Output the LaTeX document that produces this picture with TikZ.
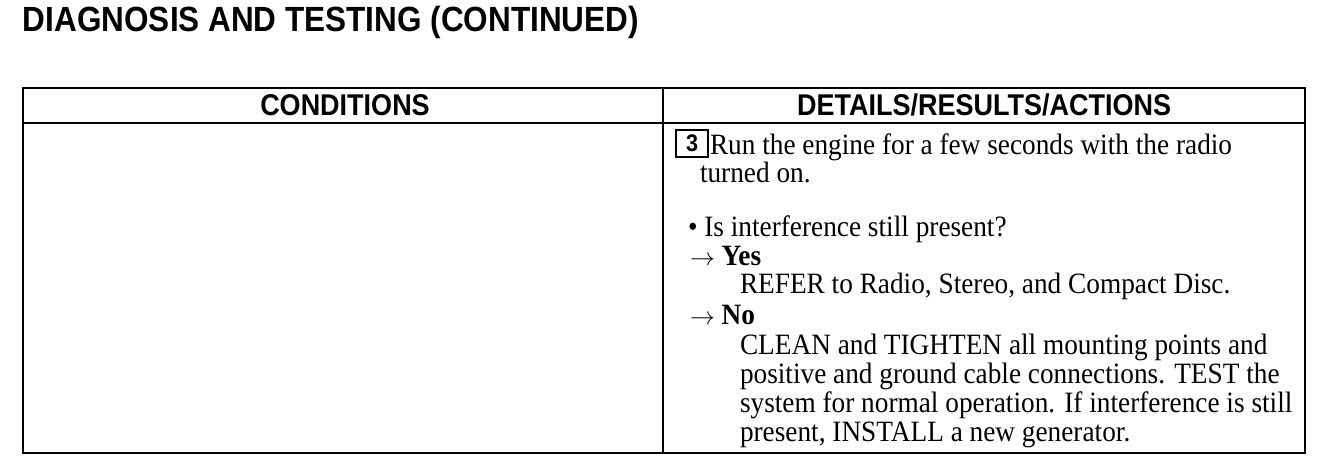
\documentclass[tikz,border=0pt]{standalone}
\usepackage{fontspec}
\setmainfont{Liberation Serif}[FakeStretch=0.925]
\setsansfont{Liberation Sans}[FakeStretch=0.9]

\tikzset{
  headtext/.style={anchor=base, font=\sffamily\bfseries\fontsize{30}{32}\selectfont},
  bodytext/.style={anchor=base west, font=\fontsize{29.5}{30}\selectfont}
}

\begin{document}
\begin{tikzpicture}[every node/.style={inner sep=0pt, outer sep=0pt}, x=1pt, y=-1pt, line width=2.4pt]
		\useasboundingbox (0, 0) rectangle (1344, 462);

		\node at (23, 32) [anchor=base west, font=\sffamily\bfseries\fontsize{35}{37}\selectfont] (title) {DIAGNOSIS AND TESTING (CONTINUED)};

		\draw (23, 88) rectangle (1305, 453);
		\draw (23, 123) -- (1305, 123);
		\draw (663, 88) -- (663, 453);

		\node at (345, 116) [headtext] (cond) {CONDITIONS};
		\node at (984, 116) [headtext] (details) {DETAILS/RESULTS/ACTIONS};

		\node at (676, 130) [anchor=north west, draw, line width=2pt, minimum width=32pt, minimum height=27pt, font=\sffamily\bfseries\fontsize{24}{26}\selectfont] (step) {3};
		\node at (710, 155) [bodytext] (run) {Run the engine for a few seconds with the radio};
		\node at (700, 183) [bodytext] (turned) {turned on.};

		\node at (688, 237) [bodytext] (ask) {\textbullet\ Is interference still present?};
		\node at (690, 266) [bodytext] (yes) {$\rightarrow$ \textbf{Yes}};
		\node at (740, 294) [bodytext] (refer) {REFER to Radio, Stereo, and Compact Disc.};
		\node at (690, 324) [bodytext] (no) {$\rightarrow$ \textbf{No}};
		\node at (740, 354) [bodytext] (clean1) {CLEAN and TIGHTEN all mounting points and};
		\node at (740, 383) [bodytext] (clean2) {positive and ground cable connections. TEST the};
		\node at (740, 412) [bodytext] (clean3) {system for normal operation. If interference is still};
		\node at (740, 441) [bodytext] (clean4) {present, INSTALL a new generator.};
	\end{tikzpicture}
\end{document}
